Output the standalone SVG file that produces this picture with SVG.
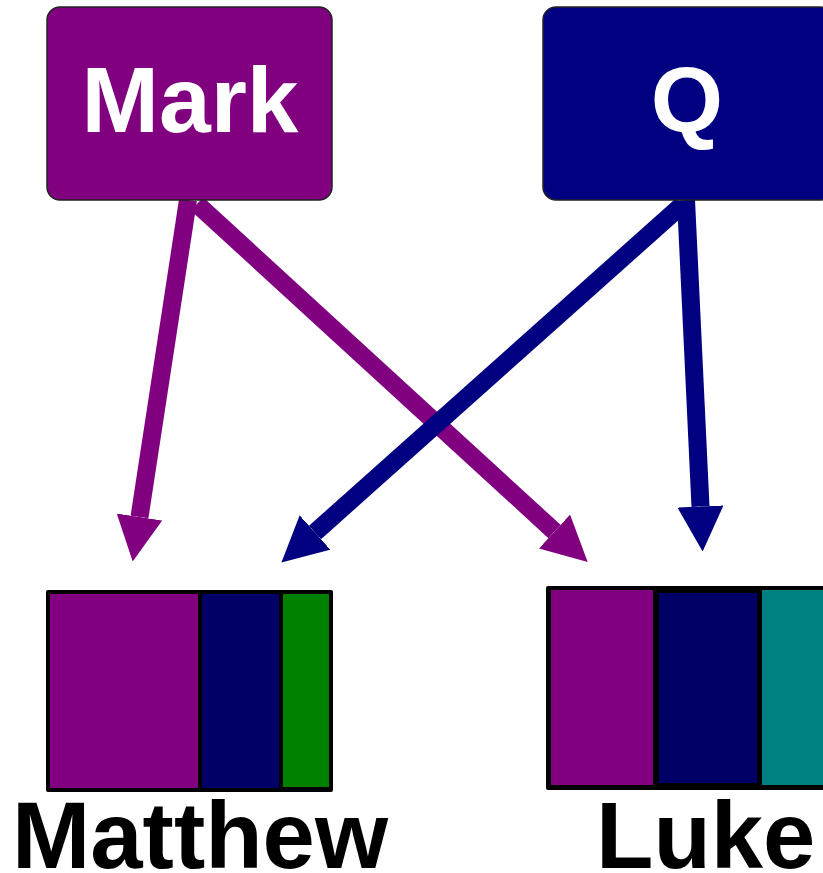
<svg xmlns="http://www.w3.org/2000/svg" width="823" height="873" viewBox="0 0 823 873">
<style>
.src{stroke:#222;stroke-width:1.5}
.lbl{font-family:"Liberation Sans",Arial,sans-serif;font-weight:bold}
.w{fill:#fff;font-size:93px}
.b{fill:#000;font-size:94px}
.ap{stroke:#800080;stroke-width:18;fill:none}
.an{stroke:#000080;stroke-width:18;fill:none}
</style>
<defs>
<marker id="hp" markerUnits="userSpaceOnUse" viewBox="0 0 45 46" markerWidth="45" markerHeight="46" refX="0" refY="23" orient="auto"><path d="M0,0 L45,23 L0,46 Z" fill="#800080"/></marker>
<marker id="hn" markerUnits="userSpaceOnUse" viewBox="0 0 45 46" markerWidth="45" markerHeight="46" refX="0" refY="23" orient="auto"><path d="M0,0 L45,23 L0,46 Z" fill="#000080"/></marker>
</defs>
<rect width="823" height="873" fill="#fff"/>
<g id="connectors">
<line class="ap" x1="188" y1="200" x2="139.5" y2="517" marker-end="url(#hp)"/>
<line class="ap" x1="197" y1="204" x2="554.5" y2="531.5" marker-end="url(#hp)"/>
<line class="an" x1="682" y1="205" x2="315" y2="532.5" marker-end="url(#hn)"/>
<line class="an" x1="686" y1="200" x2="700.5" y2="506.5" marker-end="url(#hn)"/>
</g>
<g id="mark">
<rect class="src" x="47" y="7" width="285" height="193" rx="13" fill="#800080"/>
<text class="lbl w" x="190" y="132" text-anchor="middle">Mark</text>
</g>
<g id="q">
<rect class="src" x="543" y="7" width="290" height="193" rx="13" fill="#000080"/>
<text class="lbl w" x="687" y="132" text-anchor="middle">Q</text>
</g>
<g id="matthew">
<rect x="46" y="590" width="287" height="202" rx="2" fill="#000"/>
<rect x="50" y="594" width="148" height="194" fill="#800080"/>
<rect x="202" y="594" width="77" height="194" fill="#000066"/>
<rect x="283" y="594" width="46" height="193" fill="#008000"/>
<text class="lbl b" x="12" y="868">Matthew</text>
</g>
<g id="luke">
<rect x="546" y="586" width="290" height="204" rx="2" fill="#000"/>
<rect x="551" y="590" width="102" height="195" fill="#800080"/>
<rect x="659" y="593" width="98" height="190" fill="#000066"/>
<rect x="762" y="590" width="70" height="195" fill="#008080"/>
<text class="lbl b" x="596" y="868">Luke</text>
</g>
</svg>
